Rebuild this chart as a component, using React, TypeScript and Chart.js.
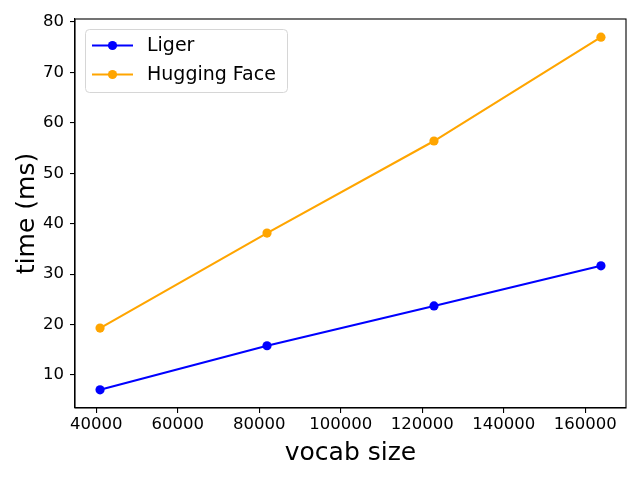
import React, { useEffect, useRef } from "react";
import { Chart, registerables } from "chart.js";

Chart.register(...registerables);

const vocabSizes = [40960, 81920, 122880, 163840];
const ligerTimes = [7.05, 15.8, 23.7, 31.65];
const hfTimes = [19.3, 38.15, 56.4, 77.0];
const xTicks = [40000, 60000, 80000, 100000, 120000, 140000, 160000];
const yTicks = [10, 20, 30, 40, 50, 60, 70, 80];
const seriesLabels = ["Liger", "Hugging Face"];
const seriesColors = ["#0000ff", "#ffa500"];

const FONT = "'DejaVu Sans', sans-serif";

const boxAndLegend = {
  id: "boxAndLegend",
  afterDraw(chart: any) {
    const { ctx, chartArea } = chart;
    ctx.save();
    // full frame (top + right spines)
    ctx.strokeStyle = "#000";
    ctx.lineWidth = 1.1;
    ctx.strokeRect(chartArea.left, chartArea.top, chartArea.right - chartArea.left, chartArea.bottom - chartArea.top);

    // legend
    const x0 = 85.5, y0 = 29.5, w = 202, h = 63;
    const r = 4;
    ctx.beginPath();
    ctx.moveTo(x0 + r, y0);
    ctx.lineTo(x0 + w - r, y0);
    ctx.quadraticCurveTo(x0 + w, y0, x0 + w, y0 + r);
    ctx.lineTo(x0 + w, y0 + h - r);
    ctx.quadraticCurveTo(x0 + w, y0 + h, x0 + w - r, y0 + h);
    ctx.lineTo(x0 + r, y0 + h);
    ctx.quadraticCurveTo(x0, y0 + h, x0, y0 + h - r);
    ctx.lineTo(x0, y0 + r);
    ctx.quadraticCurveTo(x0, y0, x0 + r, y0);
    ctx.closePath();
    ctx.fillStyle = "rgba(255,255,255,0.8)";
    ctx.fill();
    ctx.strokeStyle = "#d6d6d6";
    ctx.lineWidth = 1;
    ctx.stroke();

    chart.data.datasets.forEach((ds: any, i: number) => {
      const cy = 45.5 + i * 29;
      ctx.strokeStyle = ds.borderColor;
      ctx.lineWidth = 2.1;
      ctx.beginPath();
      ctx.moveTo(92, cy);
      ctx.lineTo(133, cy);
      ctx.stroke();
      ctx.fillStyle = ds.borderColor;
      ctx.beginPath();
      ctx.arc(112.5, cy, 4.6, 0, Math.PI * 2);
      ctx.fill();
      ctx.fillStyle = "#000";
      ctx.font = `19px ${FONT}`;
      ctx.textAlign = "left";
      ctx.textBaseline = "middle";
      ctx.fillText(ds.label, 147, cy + 1);
    });
    ctx.restore();
  },
};

export default function App() {
  const ref = useRef<HTMLCanvasElement | null>(null);

  useEffect(() => {
    document.body.style.margin = "0";
    const canvas = ref.current;
    if (!canvas) return;
    const mk = (vals: number[]) => vocabSizes.map((x, i) => ({ x, y: vals[i] }));
    const chart = new Chart(canvas, {
      type: "line",
      data: {
        datasets: [
          {
            label: seriesLabels[0],
            data: mk(ligerTimes),
            borderColor: seriesColors[0],
            backgroundColor: seriesColors[0],
            borderWidth: 2.1,
            pointRadius: 4.6,
            pointBorderWidth: 0,
            pointBackgroundColor: seriesColors[0],
            tension: 0,
          },
          {
            label: seriesLabels[1],
            data: mk(hfTimes),
            borderColor: seriesColors[1],
            backgroundColor: seriesColors[1],
            borderWidth: 2.1,
            pointRadius: 4.6,
            pointBorderWidth: 0,
            pointBackgroundColor: seriesColors[1],
            tension: 0,
          },
        ],
      },
      options: {
        responsive: false,
        animation: false,
        layout: { padding: { top: 19, right: 14, left: 0, bottom: 0 } },
        plugins: { legend: { display: false }, tooltip: { enabled: false } },
        scales: {
          x: {
            type: "linear",
            min: 34816,
            max: 169984,
            afterBuildTicks: (s: any) => {
              s.ticks = xTicks.map((v) => ({ value: v }));
            },
            afterFit: (s: any) => {
              s.height = 72;
            },
            grid: { display: true, drawOnChartArea: false, drawTicks: true, tickLength: 5, color: "#000", lineWidth: 1.1 },
            border: { display: true, color: "#000", width: 1.1 },
            ticks: { color: "#000", font: { family: FONT, size: 16.5 }, padding: 2, maxRotation: 0, autoSkip: false, callback: (v: any) => String(v) },
            title: { display: true, text: "vocab size", color: "#000", font: { family: FONT, size: 25 }, padding: { top: 0, bottom: 12 } },
          },
          y: {
            type: "linear",
            min: 3.45,
            max: 80.6,
            afterBuildTicks: (s: any) => {
              s.ticks = yTicks.map((v) => ({ value: v }));
            },
            afterFit: (s: any) => {
              s.width = 75;
            },
            grid: { display: true, drawOnChartArea: false, drawTicks: true, tickLength: 5, color: "#000", lineWidth: 1.1 },
            border: { display: true, color: "#000", width: 1.1 },
            ticks: { color: "#000", font: { family: FONT, size: 16.5 }, padding: 6, autoSkip: false, callback: (v: any) => String(v) },
            title: { display: true, text: "time (ms)", color: "#000", font: { family: FONT, size: 25 }, padding: { top: 12, bottom: 0 } },
          },
        },
      },
      plugins: [boxAndLegend],
    } as any);
    return () => chart.destroy();
  }, []);

  return <canvas ref={ref} width={640} height={480} style={{ display: "block" }} />;
}
